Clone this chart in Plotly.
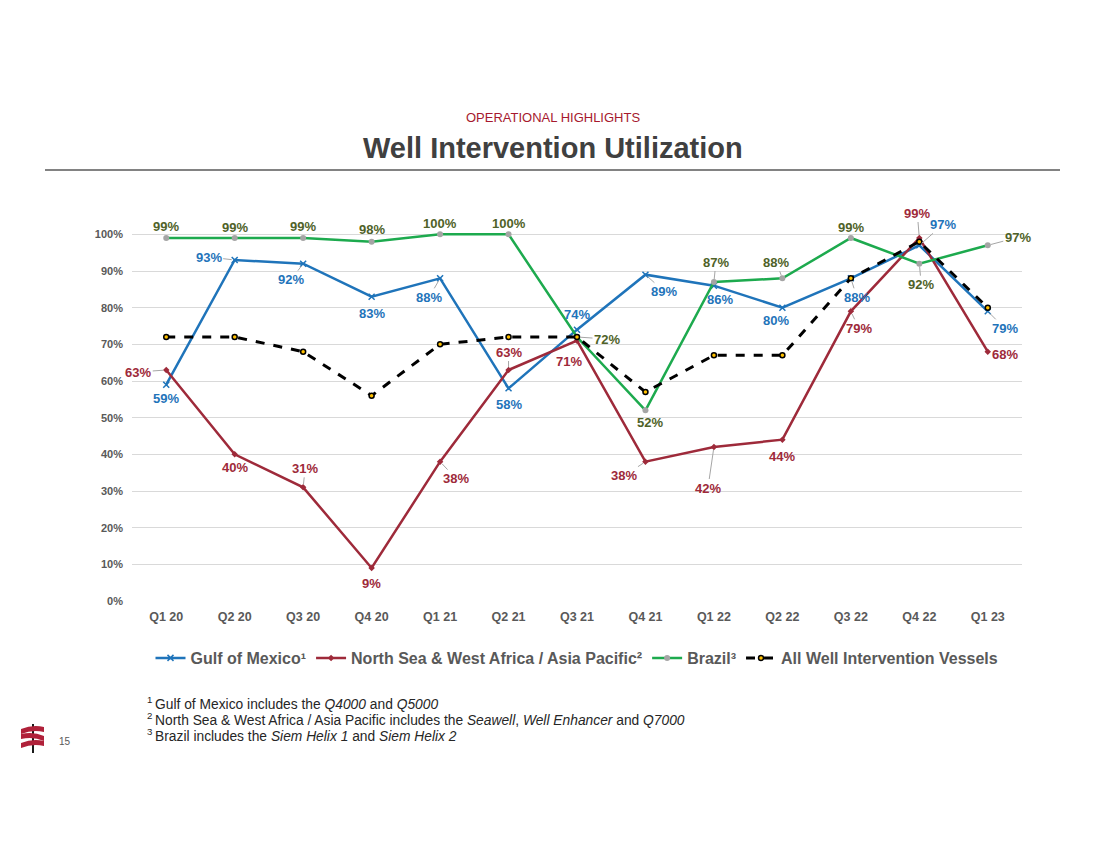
import plotly.graph_objects as go

quarters = ["Q1 20", "Q2 20", "Q3 20", "Q4 20", "Q1 21", "Q2 21", "Q3 21",
            "Q4 21", "Q1 22", "Q2 22", "Q3 22", "Q4 22", "Q1 23"]
gulf_of_mexico = [59, 93, 92, 83, 88, 58, 74, 89, 86, 80, 88, 97, 79]
north_sea_wa_apac = [63, 40, 31, 9, 38, 63, 71, 38, 42, 44, 79, 99, 68]
brazil = [99, 99, 99, 98, 100, 100, 72, 52, 87, 88, 99, 92, 97]
all_vessels = [72, 72, 68, 56, 70, 72, 72, 57, 67, 67, 88, 98, 80]
y_ticks = [0, 10, 20, 30, 40, 50, 60, 70, 80, 90, 100]
y_tick_text = [f"{v}%" for v in y_ticks]

# label offsets in pixels (dx, dy downwards, leader line?)
gom_off = [(0, 14, 0), (-26, -3, 1), (-12, 16, 1), (0, 17, 0), (-11, 19, 1), (0, 16, 0),
           (0, -15, 0), (19, 17, 1), (6, 14, 0), (-6, 13, 0), (6, 19, 1), (24, -21, 1), (17, 17, 1)]
ns_off = [(-28, 2, 1), (0, 13, 0), (2, -19, 1), (0, 15, 0), (16, 17, 1), (0, -18, 1),
          (-8, 21, 0), (-21, 14, 1), (-6, 41, 1), (0, 17, 0), (8, 17, 1), (-2, -25, 1), (17, 3, 1)]
br_off = [(0, -12, 0), (0, -11, 0), (0, -12, 0), (0, -12, 0), (0, -11, 0), (0, -11, 0),
          (30, 2, 1), (5, 12, 0), (2, -20, 1), (-6, -16, 1), (0, -11, 0), (2, 21, 1), (30, -8, 1)]

C_BLUE = "#1F74BA"
C_RED = "#9E2A3A"
C_GREEN = "#1DAA4E"
C_GREEN_LBL = "#4F6228"
FONT = "Liberation Sans, Arial, sans-serif"

fig = go.Figure()
fig.add_trace(go.Scatter(x=quarters, y=gulf_of_mexico, mode="lines+markers", name="Gulf of Mexico¹",
                         line=dict(color=C_BLUE, width=2.5),
                         marker=dict(symbol="x-thin", size=6, line=dict(color=C_BLUE, width=1.5)),
                         cliponaxis=False))
fig.add_trace(go.Scatter(x=quarters, y=north_sea_wa_apac, mode="lines+markers",
                         name="North Sea & West Africa / Asia Pacific²",
                         line=dict(color=C_RED, width=2.5),
                         marker=dict(symbol="diamond", size=5, color=C_RED), cliponaxis=False))
fig.add_trace(go.Scatter(x=quarters, y=brazil, mode="lines+markers", name="Brazil³",
                         line=dict(color=C_GREEN, width=2.5),
                         marker=dict(symbol="circle", size=6, color="#A5A5A5"), cliponaxis=False))
fig.add_trace(go.Scatter(x=quarters, y=all_vessels, mode="lines+markers",
                         name="All Well Intervention Vessels",
                         line=dict(color="black", width=3, dash="dash"),
                         marker=dict(symbol="circle", size=5, color="#FFC000",
                                     line=dict(color="black", width=1.5)), cliponaxis=False))

annotations = []
for vals, offs, col in [(gulf_of_mexico, gom_off, C_BLUE), (north_sea_wa_apac, ns_off, C_RED),
                        (brazil, br_off, C_GREEN_LBL)]:
    for q, v, (dx, dy, lead) in zip(quarters, vals, offs):
        base = dict(x=q, y=v, xref="x", yref="y", text=f"{v}%",
                    font=dict(family=FONT, size=13, color=col, weight="bold"))
        if lead:
            base.update(showarrow=True, ax=dx, ay=dy, axref="pixel", ayref="pixel",
                        arrowhead=0, arrowwidth=1, arrowcolor="#A6A6A6", standoff=3)
        else:
            base.update(showarrow=False, xshift=dx, yshift=-dy)
        annotations.append(base)

# plot area pixel geometry for page elements
L, R, T, B = 132, 1022, 216, 601
def px(x):
    return (x - L) / (R - L)
def py(y):
    return (B - y) / (B - T)

def page_text(x, y, text, size, color, xanchor="center"):
    return dict(x=px(x), y=py(y), xref="paper", yref="paper", showarrow=False,
                xanchor=xanchor, yanchor="middle", text=text,
                font=dict(family=FONT, size=size, color=color))

annotations += [
    page_text(553, 118, "OPERATIONAL HIGHLIGHTS", 13, "#A6192E"),
    page_text(553, 148, "<b>Well Intervention Utilization</b>", 29, "#404040"),
    page_text(145, 703, "<sup>1 </sup>Gulf of Mexico includes the <i>Q4000</i> and <i>Q5000</i>",
              13.8, "#262626", "left"),
    page_text(145, 719, "<sup>2 </sup>North Sea & West Africa / Asia Pacific includes the "
              "<i>Seawell</i>, <i>Well Enhancer</i> and <i>Q7000</i>", 13.8, "#262626", "left"),
    page_text(145, 735, "<sup>3 </sup>Brazil includes the <i>Siem Helix 1</i> and <i>Siem Helix 2</i>",
              13.8, "#262626", "left"),
    page_text(65, 741, "15", 10, "#595959"),
]

shapes = [
    dict(type="line", xref="paper", yref="paper", x0=px(45), x1=px(1060), y0=py(170), y1=py(170),
         line=dict(color="#595959", width=1.5)),
    dict(type="line", xref="paper", yref="paper", x0=px(33), x1=px(33),
         y0=py(724), y1=py(753), line=dict(color="#1A1A1A", width=2)),
]
# simple logo ribbons
logo_red = "#B0213A"
for y0, flip in ((727, 0), (734, 1), (741, 0)):
    if flip:
        path = (f"M {px(21)} {py(y0)} Q {px(33)} {py(y0 - 3)} {px(44)} {py(y0 + 2)} "
                f"L {px(44)} {py(y0 + 7)} Q {px(33)} {py(y0 + 2)} {px(21)} {py(y0 + 5)} Z")
    else:
        path = (f"M {px(21)} {py(y0 + 2)} Q {px(33)} {py(y0 - 3)} {px(44)} {py(y0)} "
                f"L {px(44)} {py(y0 + 5)} Q {px(33)} {py(y0 + 2)} {px(21)} {py(y0 + 7)} Z")
    shapes.append(dict(type="path", xref="paper", yref="paper", path=path,
                       fillcolor=logo_red, line=dict(width=0)))

fig.update_layout(
    width=1100, height=849,
    margin=dict(l=L, r=1100 - R, t=T, b=849 - B),
    paper_bgcolor="white", plot_bgcolor="white",
    font=dict(family=FONT),
    showlegend=True,
    legend=dict(orientation="h", x=0.5, xanchor="center", y=py(658), yanchor="middle",
                font=dict(family=FONT, size=16, color="#595959", weight="bold"),
                itemwidth=30, bgcolor="rgba(0,0,0,0)"),
    annotations=annotations,
    shapes=shapes,
)
fig.update_xaxes(type="category", range=[-0.5, 12.5], showgrid=False, showline=False, ticks="",
                 ticklabelstandoff=6,
                 tickfont=dict(family=FONT, size=12.5, color="#595959", weight="bold"))
fig.update_yaxes(range=[0, 105], tickmode="array", tickvals=y_ticks, ticktext=y_tick_text,
                 showgrid=True, gridcolor="#D9D9D9", gridwidth=1, zeroline=False, showline=False,
                 ticklabelstandoff=8,
                 tickfont=dict(family=FONT, size=11, color="#595959", weight="bold"))

fig.write_html("out.html")
